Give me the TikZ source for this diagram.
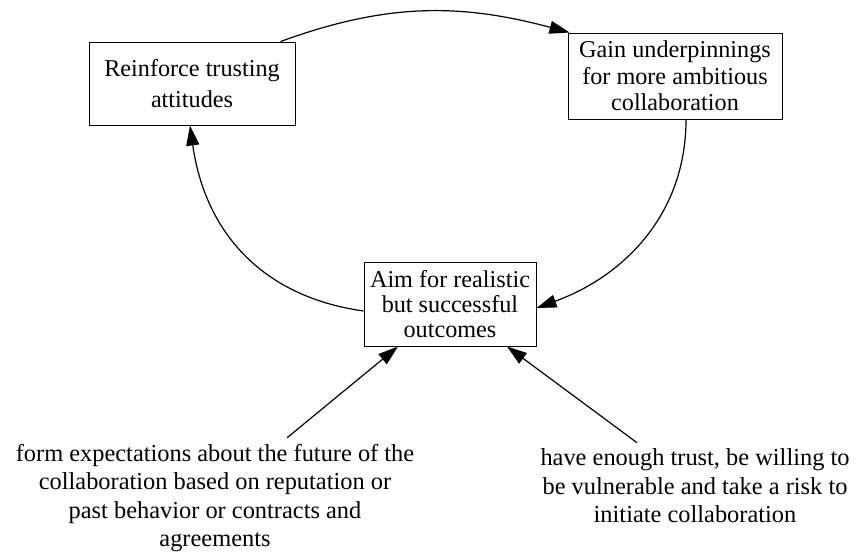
\documentclass[tikz,border=0pt]{standalone}
\usepackage{fontspec}
\newfontfamily\diagfont{Liberation Serif}
\usetikzlibrary{arrows.meta,calc}
\begin{document}
\begin{tikzpicture}[x=1pt,y=1pt,
  box/.style={draw, line width=1pt, align=center, inner sep=0pt},
  lbl/.style={align=center, font=\diagfont\fontsize{24.4}{28.5}\selectfont, inner sep=0pt},
  arr/.style={line width=1.2pt, -{Triangle[length=20pt,width=13pt]}}]
\useasboundingbox (0,0) rectangle (856,-554);
\node[box, minimum width=206pt, minimum height=83pt, font=\diagfont\fontsize{24.2}{31}\selectfont] (b1) at (192,-83.5) {Reinforce trusting\\attitudes};
\node[box, minimum width=214pt, minimum height=86pt, font=\diagfont\fontsize{24.2}{26.5}\selectfont] (b2) at (675,-76) {Gain underpinnings\\for more ambitious\\collaboration};
\node[box, minimum width=172pt, minimum height=84pt, font=\diagfont\fontsize{24.2}{25}\selectfont] (b3) at (450,-304) {Aim for realistic\\but successful\\outcomes};
\node[lbl] (t1) at (215,-498) {form expectations about the future of the\\collaboration based on reputation or\\past behavior or contracts and\\agreements};
\node[lbl] (t2) at (695,-486) {have enough trust, be willing to\\be vulnerable and take a risk to\\initiate collaboration};
\draw[arr] ($(b1.north east)+(-15,0)$) to[out=20,in=165] ($(b2.north west)+(2,0)$);
\draw[arr] ($(b2.south)+(11,0)$) to[out=-90,in=20] ($(b3.east)+(0,-4)$);
\draw[arr] ($(b3.west)+(0,-7)$) .. controls +(172:105) and +(-82:105) .. ($(b1.south)+(-2,0)$);
\draw[arr] ($(t1.north)+(72,6)$) -- ($(b3.south)+(-52,0)$);
\draw[arr] ($(t2.north)+(-58,6)$) -- ($(b3.south)+(57,0)$);
\end{tikzpicture}
\end{document}
